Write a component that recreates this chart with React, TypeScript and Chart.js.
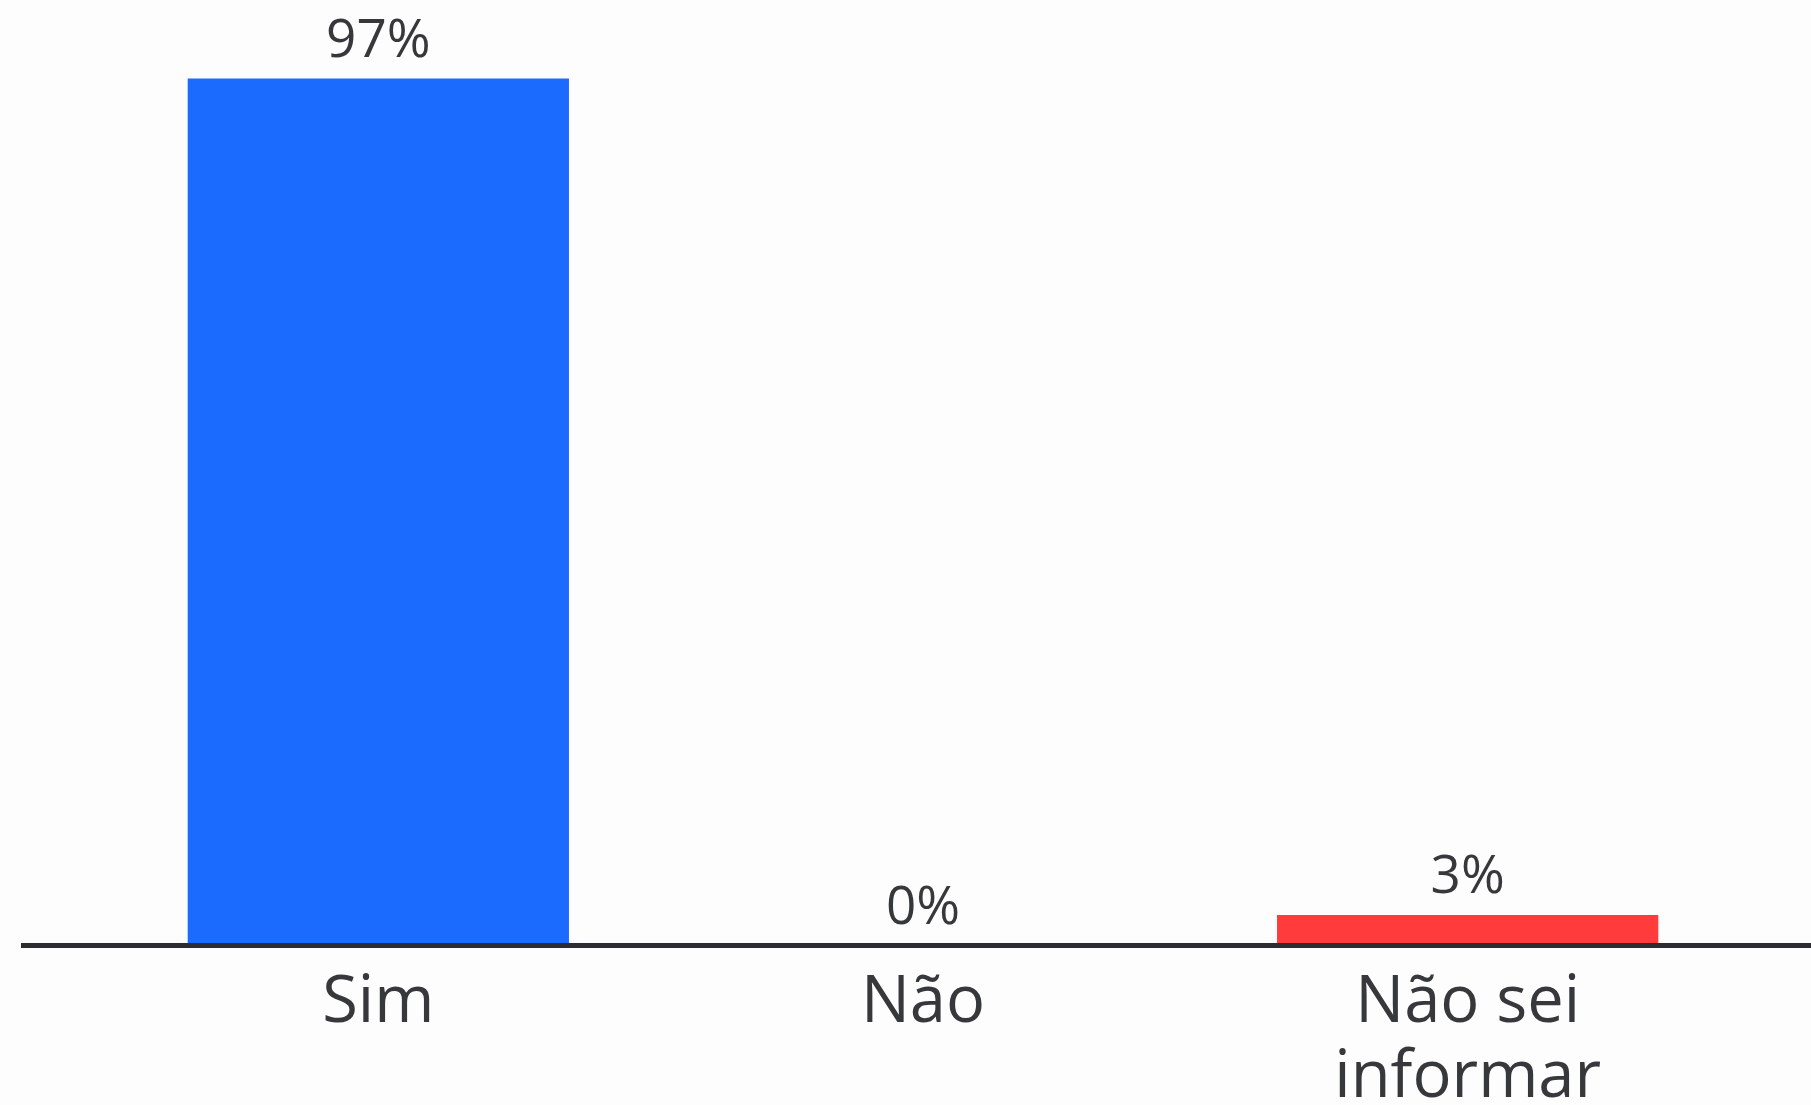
import React, { useEffect, useRef } from "react";
import { Chart, registerables } from "chart.js";

Chart.register(...registerables);

const categories: (string | string[])[] = ["Sim", "Não", ["Não sei", "informar"]];
const values: number[] = [96.6, 0, 3.4];
const barColors: string[] = ["#1c6bff", "#1c6bff", "#ff3b3b"];

const FONT = "'Open Sans', sans-serif";
const TEXT = "#37383c";

const valueLabels = {
  id: "valueLabels",
  afterDatasetsDraw(chart: any) {
    const ctx = chart.ctx;
    const meta = chart.getDatasetMeta(0);
    ctx.save();
    ctx.font = `400 53px ${FONT}`;
    ctx.fillStyle = TEXT;
    ctx.textAlign = "center";
    ctx.textBaseline = "alphabetic";
    meta.data.forEach((bar: any, i: number) => {
      ctx.fillText(`${Math.round(values[i])}%`, bar.x, bar.y - 22);
    });
    ctx.restore();
  },
};

const baseLine = {
  id: "baseLine",
  afterDatasetsDraw(chart: any) {
    const ctx = chart.ctx;
    const y = chart.scales.y.getPixelForValue(0);
    ctx.save();
    ctx.strokeStyle = "#2b2d31";
    ctx.lineWidth = 5;
    ctx.beginPath();
    ctx.moveTo(21, y);
    ctx.lineTo(chart.width, y);
    ctx.stroke();
    ctx.restore();
  },
};

export default function App() {
  const ref = useRef<HTMLCanvasElement | null>(null);
  useEffect(() => {
    if (!ref.current) return;
    const chart = new Chart(ref.current, {
      type: "bar",
      data: {
        labels: categories,
        datasets: [
          {
            data: values,
            backgroundColor: barColors,
            borderWidth: 0,
            categoryPercentage: 1,
            barPercentage: 0.7,
          },
        ],
      },
      options: {
        animation: false,
        responsive: true,
        maintainAspectRatio: false,
        layout: { padding: { left: 106, right: 71, top: 48, bottom: 0 } },
        plugins: { legend: { display: false }, tooltip: { enabled: false } },
        scales: {
          x: {
            grid: { display: false, drawTicks: false },
            border: { display: false },
            ticks: {
              color: TEXT,
              font: { family: FONT, size: 65, lineHeight: 1.15 },
              padding: 21,
              maxRotation: 0,
              autoSkip: false,
            },
          },
          y: {
            display: false,
            min: 0,
            max: 100,
          },
        },
      },
      plugins: [baseLine, valueLabels],
    });
    return () => chart.destroy();
  }, []);
  return (
    <div style={{ position: "fixed", left: 0, top: 0, width: 1811, height: 1137, background: "#fdfdfd" }}>
      <canvas ref={ref} />
    </div>
  );
}
